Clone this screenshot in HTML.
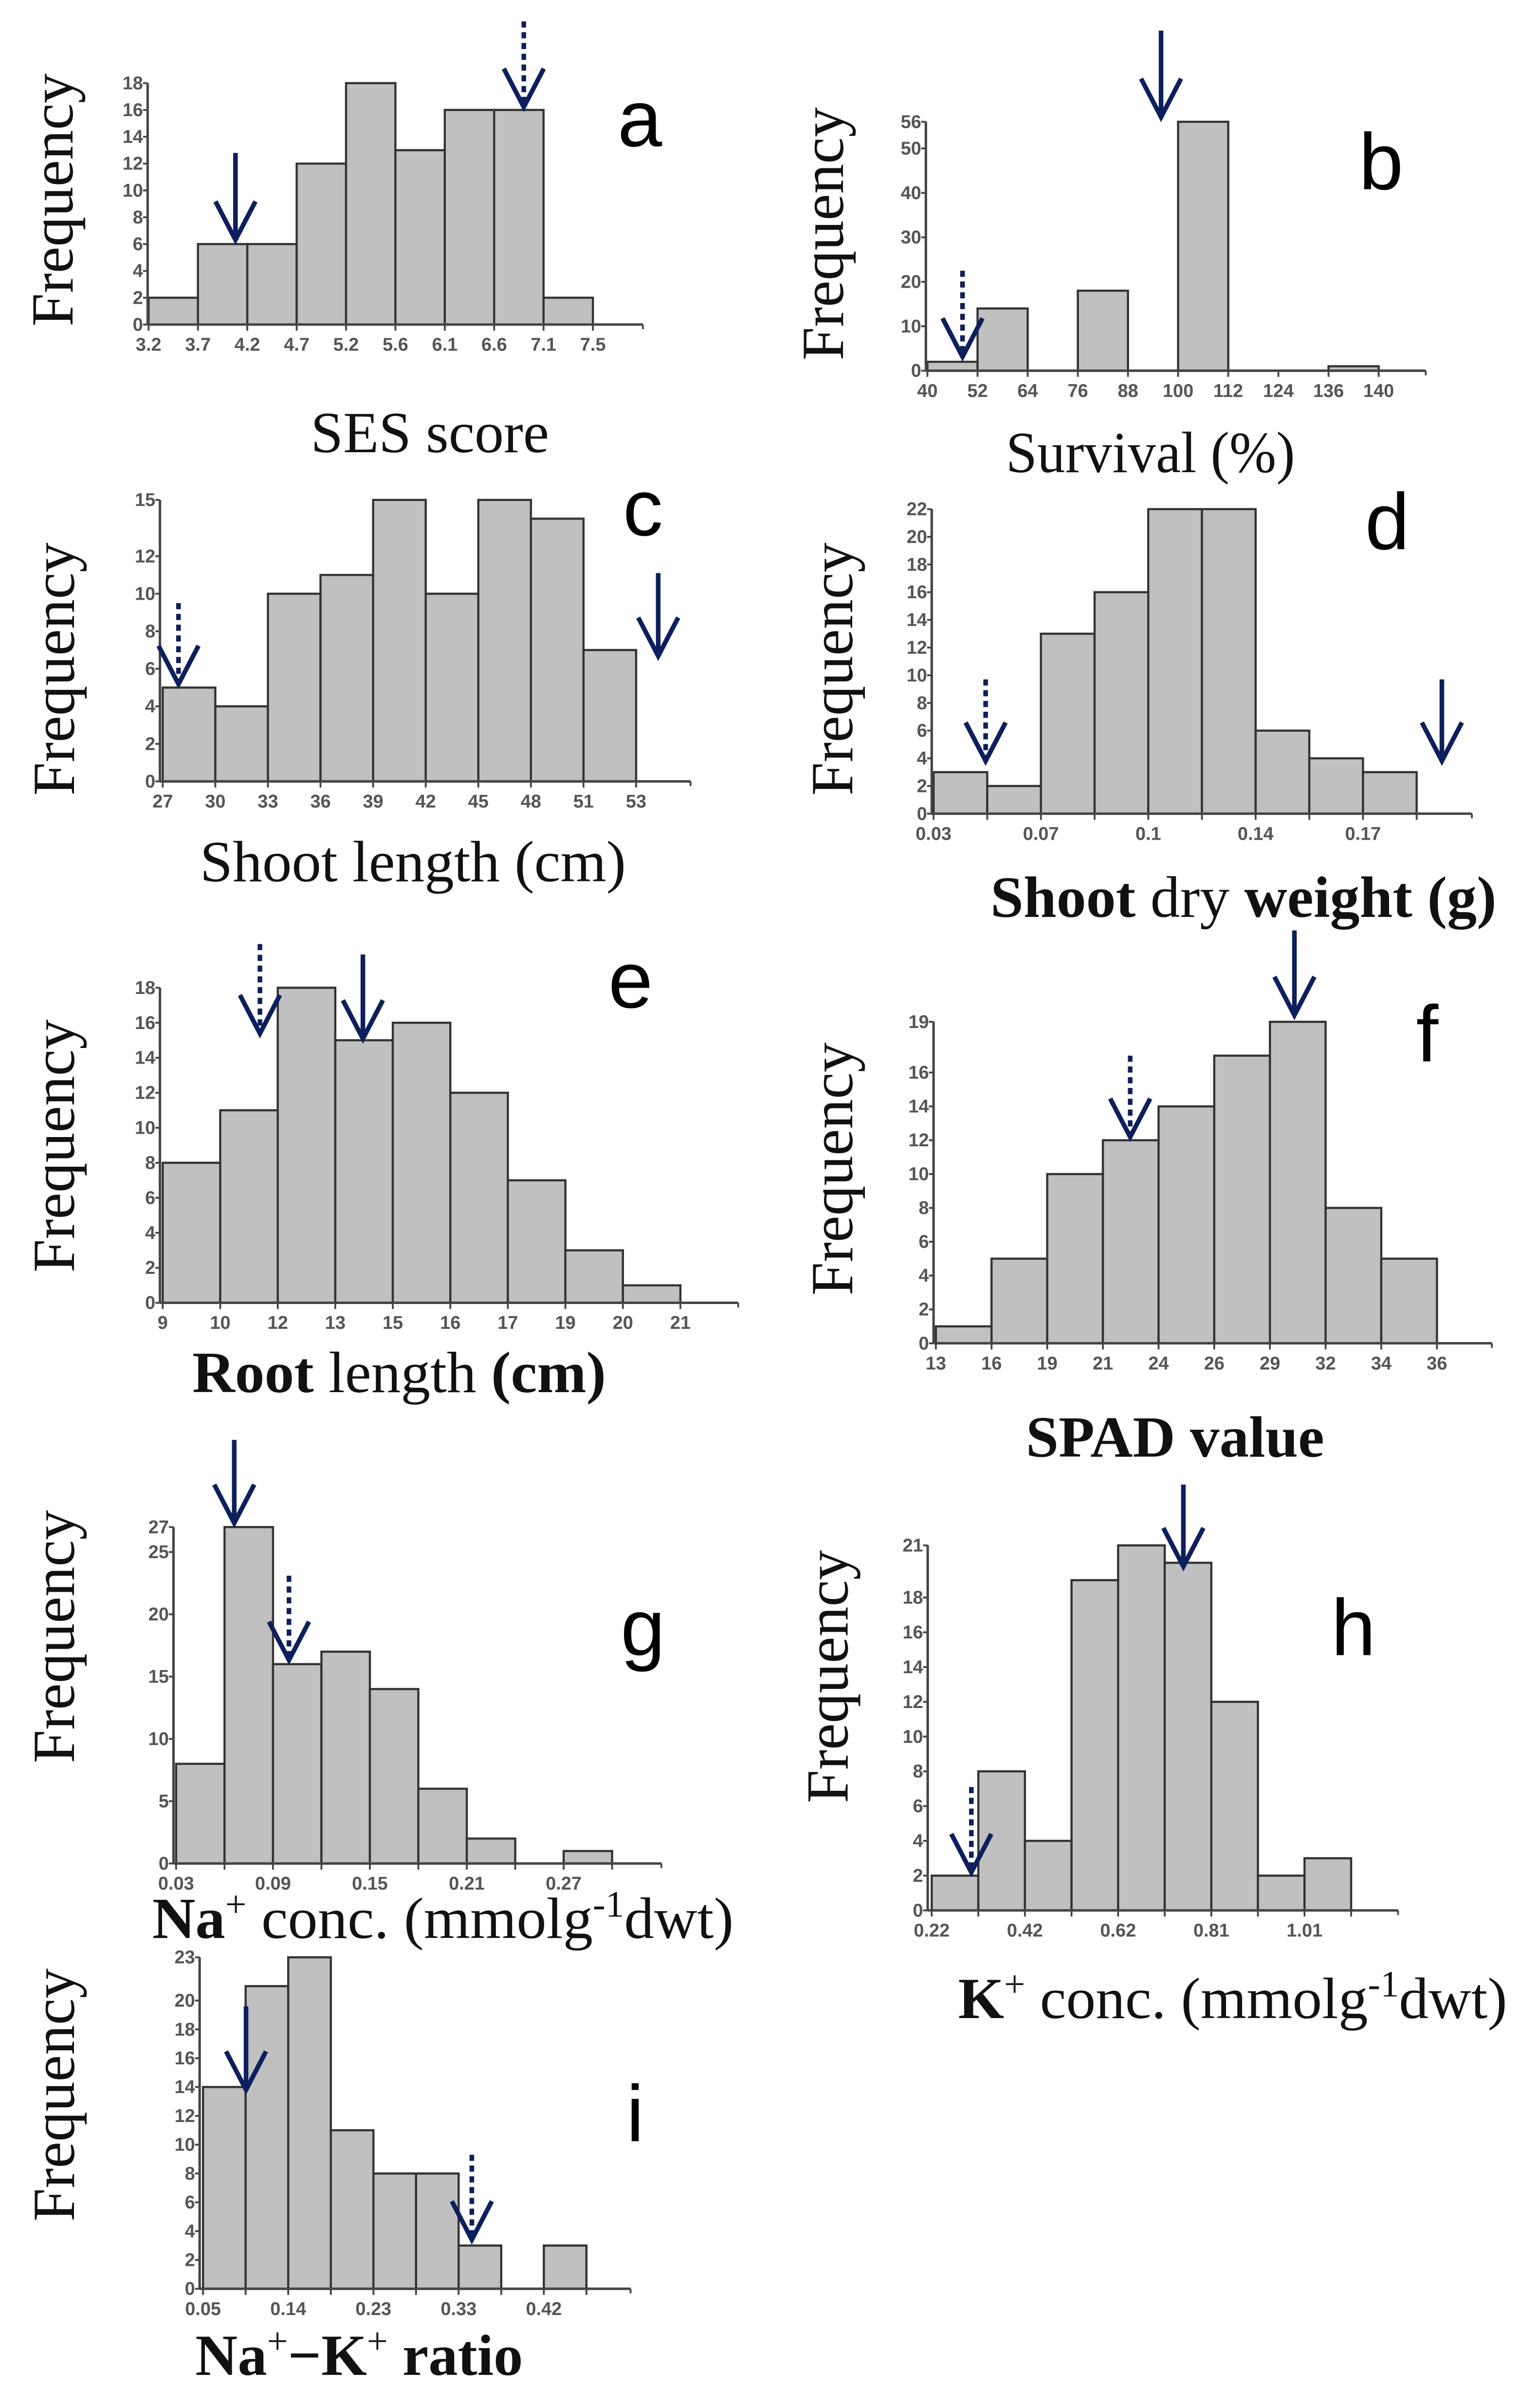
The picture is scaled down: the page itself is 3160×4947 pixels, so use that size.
<!DOCTYPE html>
<html><head><meta charset="utf-8">
<style>
html,body{margin:0;padding:0;background:#fff;}
svg{display:block;}
.tick{font-family:"Liberation Sans",Arial,sans-serif;font-size:12px;fill:#555;font-weight:bold;}
.freq{font-family:"Liberation Serif","Times New Roman",serif;font-size:39px;fill:#111;}
.xl{font-family:"Liberation Serif","Times New Roman",serif;font-size:38px;fill:#111;}
.let{font-family:"Liberation Sans",Arial,sans-serif;font-size:52px;fill:#000;}
</style></head>
<body>
<svg id="fig" width="3160" height="4947" viewBox="0 0 1000 1565.5" xmlns="http://www.w3.org/2000/svg">
<rect width="1000" height="1565.5" fill="#fff"/>
<g id="panels"></g>
<g>
<text class="xl" x="202" y="294" textLength="155" lengthAdjust="spacingAndGlyphs">SES score</text>
<text class="xl" x="654" y="307" textLength="188" lengthAdjust="spacingAndGlyphs">Survival (%)</text>
<text class="xl" x="130" y="573" textLength="277" lengthAdjust="spacingAndGlyphs">Shoot length (cm)</text>
<text class="xl" x="644" y="596" textLength="329" lengthAdjust="spacingAndGlyphs"><tspan font-weight="bold">Shoot</tspan> dry <tspan font-weight="bold">weight (g)</tspan></text>
<text class="xl" x="125" y="905" textLength="269" lengthAdjust="spacingAndGlyphs"><tspan font-weight="bold">Root</tspan> length <tspan font-weight="bold">(cm)</tspan></text>
<text class="xl" x="667" y="947" textLength="194" lengthAdjust="spacingAndGlyphs" font-weight="bold">SPAD value</text>
<text class="xl" x="99" y="1260" textLength="378" lengthAdjust="spacingAndGlyphs"><tspan font-weight="bold">Na</tspan><tspan font-size="24" dy="-14">+</tspan><tspan dy="14"> conc. (mmolg</tspan><tspan font-size="24" dy="-14">-1</tspan><tspan dy="14">dwt)</tspan></text>
<text class="xl" x="623" y="1312" textLength="357" lengthAdjust="spacingAndGlyphs"><tspan font-weight="bold">K</tspan><tspan font-size="24" dy="-14">+</tspan><tspan dy="14"> conc. (mmolg</tspan><tspan font-size="24" dy="-14">-1</tspan><tspan dy="14">dwt)</tspan></text>
<text class="xl" x="127" y="1544" textLength="213" lengthAdjust="spacingAndGlyphs"><tspan font-weight="bold">Na</tspan><tspan font-size="24" dy="-14">+</tspan><tspan dy="14" font-weight="bold">−K</tspan><tspan font-size="24" dy="-14">+</tspan><tspan dy="14" font-weight="bold"> ratio</tspan></text>
</g>
</svg>
<script>
// ---- data ----
const countsA = [2,6,6,12,18,13,16,16,2];
const edgesA = ["3.2","3.7","4.2","4.7","5.2","5.6","6.1","6.6","7.1","7.5"];
const yTicksA = [0,2,4,6,8,10,12,14,16,18];
const countsB = [2,14,0,18,0,56,0,0,1];
const edgesB = ["40","52","64","76","88","100","112","124","136","140"];
const yTicksB = [0,10,20,30,40,50,56];
const countsC = [5,4,10,11,15,10,15,14,7];
const edgesC = ["27","30","33","36","39","42","45","48","51","53"];
const yTicksC = [0,2,4,6,8,10,12,15];
const countsD = [3,2,13,16,22,22,6,4,3];
const edgesD = ["0.03","","0.07","","0.1","","0.14","","0.17",""];
const yTicksD = [0,2,4,6,8,10,12,14,16,18,20,22];
const countsE = [8,11,18,15,16,12,7,3,1];
const edgesE = ["9","10","12","13","15","16","17","19","20","21"];
const yTicksE = [0,2,4,6,8,10,12,14,16,18];
const countsF = [1,5,10,12,14,17,19,8,5];
const edgesF = ["13","16","19","21","24","26","29","32","34","36"];
const yTicksF = [0,2,4,6,8,10,12,14,16,19];
const countsG = [8,27,16,17,14,6,2,0,1];
const edgesG = ["0.03","","0.09","","0.15","","0.21","","0.27",""];
const yTicksG = [0,5,10,15,20,25,27];
const countsH = [2,8,4,19,21,20,12,2,3];
const edgesH = ["0.22","","0.42","","0.62","","0.81","","1.01",""];
const yTicksH = [0,2,4,6,8,10,12,14,16,18,21];
const countsI = [14,21,23,11,8,8,3,0,3];
const edgesI = ["0.05","","0.14","","0.23","","0.33","","0.42",""];
const yTicksI = [0,2,4,6,8,10,12,14,16,18,20,23];
// arrows: [bin position, tip count, tail count, dashed]
const arrowsA = [[1.76,6.2,12.8,false],[7.6,16.1,22.6,true]];
const arrowsB = [[4.66,56.7,76.5,false],[0.7,2.8,22.5,true]];
const arrowsC = [[0.3,5.1,9.5,true],[9.42,6.6,11.1,false]];
const arrowsD = [[0.97,3.7,9.7,true],[9.47,3.7,9.7,false]];
const arrowsE = [[1.69,15.3,20.5,true],[3.48,15.0,19.9,false]];
const arrowsF = [[6.44,19.3,24.4,false],[3.49,12.1,17.0,true]];
const arrowsG = [[1.2,27.2,34.0,false],[2.33,16.2,23.1,true]];
const arrowsH = [[5.4,19.7,24.5,false],[0.85,2.1,7.1,true]];
const arrowsI = [[1.01,13.7,19.6,false],[6.31,3.3,9.3,true]];

const NS = "http://www.w3.org/2000/svg";
const root = document.getElementById('panels');
function mk(tag, attrs, parent){
  const e = document.createElementNS(NS, tag);
  for (const k in attrs) e.setAttribute(k, attrs[k]);
  parent.appendChild(e);
  return e;
}
// layout: id, axisX, x0, binW, base, unitPx, axisEnd, letter x,y, freq x,y
const layouts = [
 ['a',96,96.6,32.1,211,8.72,418,416,77,34,130, countsA,edgesA,yTicksA,arrowsA],
 ['b',602,603,32.6,241,2.89,927,898,105,535,152, countsB,edgesB,yTicksB,arrowsB],
 ['c',104,105.8,34.2,508,12.2,449,418,330,35,435, countsC,edgesC,yTicksC,arrowsC],
 ['d',605.8,607,34.9,529,9.0,957,902,339,541,435, countsD,edgesD,yTicksD,arrowsD],
 ['e',104,105.8,37.4,847,11.38,480,410,637,35,745, countsE,edgesE,yTicksE,arrowsE],
 ['f',607,608.5,36.2,873.3,11.0,970,928,672,541,760, countsF,edgesF,yTicksF,arrowsF],
 ['g',112.8,114.5,31.5,1211.5,8.1,430,418,1058,35,1064, countsG,edgesG,yTicksG,arrowsG],
 ['h',603.2,605.8,30.3,1242,11.3,909,880,1058,538,1090, countsH,edgesH,yTicksH,arrowsH],
 ['i',129.8,132,27.7,1488,9.37,410,413,1374,35,1362, countsI,edgesI,yTicksI,arrowsI]
];
layouts.forEach(L=>{
  const [id,ax,x0,w,base,unit,aend,lx,ly,fx,fy,counts,edges,yt,arrows] = L;
  const xs = i => x0 + w*i;
  const ys = v => base - unit*v;
  const g = mk('g',{},root);
  
  
  counts.forEach((c,i)=>{
    if (c<=0) return;
    const r = mk('rect',{x:xs(i),y:ys(c),width:w,height:unit*c,fill:'#c0c0c0',stroke:'#333','stroke-width':1.4},g);
    
    
  });
  const ymax = yt[yt.length-1];
  const yaxis = mk('line',{x1:ax,y1:ys(ymax),x2:ax,y2:base,stroke:'#444','stroke-width':1.6},g);
  
  
  const xaxis = mk('line',{x1:ax,y1:base,x2:aend,y2:base,stroke:'#444','stroke-width':1.6},g);
  
  
  mk('line',{x1:aend,y1:base,x2:aend,y2:base+3,stroke:'#444','stroke-width':1.2},g);
  yt.forEach(v=>{
    mk('line',{x1:ax-3,y1:ys(v),x2:ax,y2:ys(v),stroke:'#444','stroke-width':1.2},g);
    const t = mk('text',{x:ax-3,y:ys(v)+4,'text-anchor':'end',class:'tick'},g);
    t.textContent = v;
    
    
  });
  edges.forEach((lab,i)=>{
    mk('line',{x1:xs(i),y1:base,x2:xs(i),y2:base+4,stroke:'#444','stroke-width':1.2},g);
    if (!lab) return;
    const t = mk('text',{x:xs(i),y:base+17,'text-anchor':'middle',class:'tick'},g);
    t.textContent = lab;
    
    
  });
  arrows.forEach(a=>{
    const [pos,tip,tail,dashed] = a;
    const x = xs(pos), yTip = ys(tip)-1, yTail = ys(tail);
    const ag = mk('g',{stroke:'#0d1f5c','stroke-width':3,fill:'none'},g);
    
    
    const sh = {x1:x,y1:yTail,x2:x,y2:yTip-2};
    if (dashed) sh['stroke-dasharray'] = '4 3';
    mk('line',sh,ag);
    mk('polyline',{points:(x-13)+','+(yTip-25)+' '+x+','+yTip+' '+(x+13)+','+(yTip-25)},ag);
  });
  const lt = mk('text',{x:lx,y:ly,'text-anchor':'middle','dominant-baseline':'central',class:'let'},g);
  lt.textContent = id;
  
  
  const ft = mk('text',{x:0,y:0,'text-anchor':'middle','dominant-baseline':'central',class:'freq',transform:'translate('+fx+','+fy+') rotate(-90)'},g);
  ft.textContent = 'Frequency';
  
  
});
</script>
</body></html>
